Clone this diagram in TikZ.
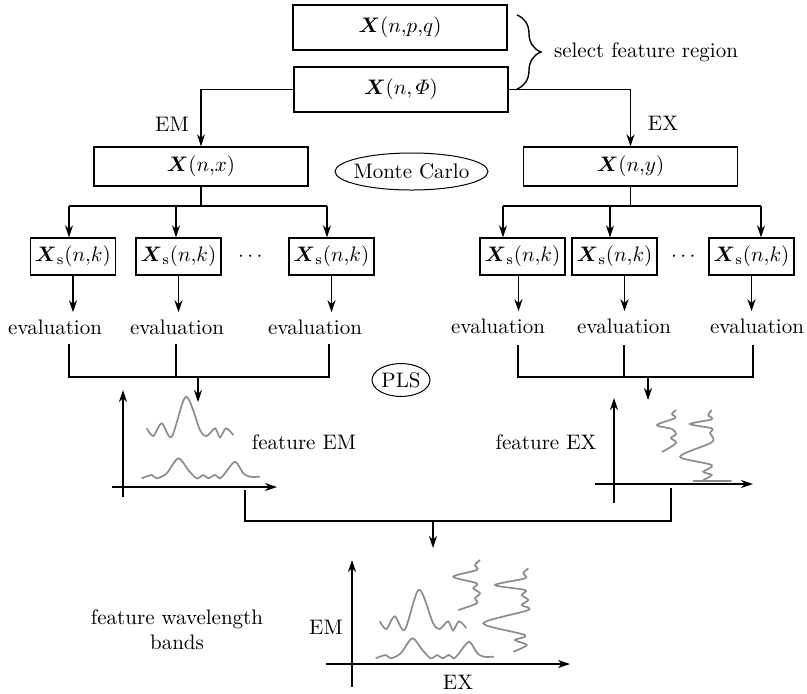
\RequirePackage{fix-cm}
\documentclass[tikz,border=0pt]{standalone}
\usepackage{amsmath}
\usepackage{amssymb}
\usepackage{tikz}
\usetikzlibrary{shapes}
\usetikzlibrary{positioning}
\usetikzlibrary{calc,arrows.meta,decorations.pathreplacing}

\def\bX{\boldsymbol{X}}
\def\Xs{\boldsymbol{X}_{\mathrm{s}}(n{,}k)}

\begin{document}
\begin{tikzpicture}[>={Stealth[length=6pt,width=4pt]}, x=0.5pt, y=-0.5pt, line width=0.7pt,
  font=\fontsize{10.5}{12.6}\selectfont,
  box/.style={draw, minimum width=107pt, minimum height=19.5pt, inner sep=1pt},
  sbox/.style={draw, minimum width=42.5pt, minimum height=18.5pt, inner sep=1pt},
  oval/.style={draw, ellipse, line width=0.5pt, inner xsep=-3pt, inner ysep=2pt},
  wave/.style={black!45, line width=0.85pt}]

\useasboundingbox (0,0) rectangle (807,693);

% input data
\node[box, minimum height=22.5pt] (xpq)  at (400,27.5) {$\bX(n{,}p{,}q)$};
\node[box, minimum height=22.5pt] (xphi) at (401,89.5) {$\bX(n,\varPhi)$};

\coordinate (bt) at (517,15);
\coordinate (bb) at (517,89);
\draw[decorate, decoration={brace, amplitude=12pt}] (bt) -- (bb);
\node (sel) at (646,52) {select feature region};

% EM and EX branches
\node[box] (xnx) at (201,166.5) {$\bX(n{,}x)$};
\node[box] (xny) at (630.5,166.5) {$\bX(n{,}y)$};
\node[oval, minimum width=76.5pt, minimum height=18.5pt] (mc) at (411.5,171.5) {Monte Carlo};

\draw[->] (xphi.west) -| (xnx.north);
\draw[->] (xphi.east) -| (xny.north);
\node (em) at (172,124) {EM};
\node (ex) at (663,123) {EX};

% sub-samples
\node[sbox] (ls1) at (73,256.5)    {$\Xs$};
\node[sbox] (ls2) at (178.5,256.5) {$\Xs$};
\node[sbox] (ls3) at (331.5,256.5) {$\Xs$};
\node (ldots) at (252,257) {$\cdots$};

\node[sbox] (rs1) at (522.5,256.5) {$\Xs$};
\node[sbox] (rs2) at (614.5,256.5) {$\Xs$};
\node[sbox] (rs3) at (751.5,256.5) {$\Xs$};
\node (rdots) at (685,257) {$\cdots$};

\coordinate (la1) at (69,206);
\coordinate (la2) at (176,206);
\coordinate (la3) at (327,206);
\coordinate (ra1) at (503,206);
\coordinate (ra2) at (610,206);
\coordinate (ra3) at (761,206);

\draw (xnx.south) -- (xnx.south |- la1);
\draw (la1) -- (la3);
\draw[->] (la1) -- (la1 |- ls1.north);
\draw[->] (la2) -- (la2 |- ls2.north);
\draw[->] (la3) -- (la3 |- ls3.north);

\draw (xny.south) -- (xny.south |- ra1);
\draw (ra1) -- (ra3);
\draw[->] (ra1) -- (ra1 |- rs1.north);
\draw[->] (ra2) -- (ra2 |- rs2.north);
\draw[->] (ra3) -- (ra3 |- rs3.north);

% evaluation
\node (le1) at (55,327)  {evaluation};
\node (le2) at (177,327) {evaluation};
\node (le3) at (315,327) {evaluation};
\node (re1) at (498,326) {evaluation};
\node (re2) at (624,326) {evaluation};
\node (re3) at (757,326) {evaluation};

\draw[->] (ls1.south) -- (ls1.south |- le1.north);
\draw[->] (ls2.south) -- (ls2.south |- le2.north);
\draw[->] (ls3.south) -- (ls3.south |- le3.north);
\draw[->] ([xshift=-2pt]rs1.south) -- ([xshift=-2pt]rs1.south |- re1.north);
\draw[->] ([xshift=5pt]rs2.south) -- ([xshift=5pt]rs2.south |- re2.north);
\draw[->] (rs3.south) -- (rs3.south |- re3.north);

\coordinate (lc1) at (69,377);
\coordinate (lc2) at (176,377);
\coordinate (lc3) at (329,377);
\coordinate (lo) at (198,377);
\coordinate (lt) at (198,402);
\coordinate (rc1) at (518,377);
\coordinate (rc2) at (624,377);
\coordinate (rc3) at (753,377);
\coordinate (ro) at (648,377);
\coordinate (rt) at (648,400);

\draw ([yshift=-1pt]lc1 |- le1.south) -- (lc1) -- (lc3) -- ([yshift=-1pt]lc3 |- le3.south);
\draw ([yshift=-1pt]lc2 |- le2.south) -- (lc2);
\draw[->] (lo) -- (lt);
\draw ([yshift=-2pt]rc1 |- re1.south) -- (rc1) -- (rc3) -- ([yshift=-2pt]rc3 |- re3.south);
\draw ([yshift=-2pt]rc2 |- re2.south) -- (rc2);
\draw[->] (ro) -- (rt);

\node[oval, minimum width=29pt, minimum height=15.5pt] (pls) at (401,380) {PLS};

% feature EM
\draw[->] (123,497) -- (123,390);
\draw[->] (112,487) -- (277,487);
\node (fem) at (304,442) {feature EM};
\draw[wave] plot[smooth] coordinates {
  (146.7,428.3) (153.3,436) (161.7,423.3) (171.7,436.7) (186,396.7) (200,430)
  (206.7,436) (215,428.3) (220,437.3) (226,428.3) (233.3,435)
};
\draw[wave] plot[smooth] coordinates {
  (141.7,478.3) (151.7,475) (156.7,478.3) (166.7,473.3) (178.3,458.3) (188.3,470)
  (196.7,478.3) (203.3,475) (208.3,478.3) (215,475) (220,478.3) (225,473.3)
  (235,461.7) (243.3,473.3) (250,476.7) (260,476.7)
};

% feature EX
\draw[->] (614,503) -- (614,398);
\draw[->] (595,484) -- (753,484);
\node (fex) at (546,442) {feature EX};
\draw[wave] plot[smooth] coordinates {
  (676,410) (672,414) (675,418) (657,425) (672,429) (676,434) (671,438)
  (676,443) (662,452)
};
\draw[wave] plot[smooth] coordinates {
  (711.7,410) (708.3,415) (711.7,419.3) (690,424) (711.7,428.3) (710,433.3)
  (713.3,438.3) (710,443.3) (680,456.7) (711.7,465) (703.3,471.7) (711.7,475)
  (703.3,480)
} (693,481) -- (731.7,481);

% merge
\coordinate (jl) at (245,521);
\coordinate (jr) at (671,521);
\coordinate (jm) at (433,521);
\coordinate (jt) at (433,548);
\draw (245,490) -- (jl) -- (jr) -- (671,488);
\draw[->] (jm) -- (jt);

% feature wavelength bands
\draw[->] (352,687) -- (352,560);
\draw[->] (326,664) -- (570,664);
\node (bem) at (326,627) {EM};
\node (bex) at (458,682) {EX};
\node[align=center] (fwb) at (177,630) {feature wavelength\\bands};
\draw[wave] plot[smooth] coordinates {
  (379.7,621.3) (386.3,629) (394.7,616.3) (404.7,629.7) (419,589.7) (433,623)
  (439.7,629) (448,621.3) (453,630.3) (459,621.3) (466.3,628)
};
\draw[wave] plot[smooth] coordinates {
  (375.7,658.3) (385.7,655) (390.7,658.3) (400.7,653.3) (412.3,638.3) (422.3,650)
  (430.7,658.3) (437.3,655) (442.3,658.3) (449,655) (454,658.3) (459,653.3)
  (469,641.7) (477.3,653.3) (484,656.7) (494,656.7)
};
\draw[wave] plot[smooth] coordinates {
  (480,560) (475,565) (476.7,570) (453.3,576.7) (476.7,583.3) (473.3,588.3)
  (480,593.3) (475,598.3) (476.7,603.3) (458.3,610)
};
\draw[wave] plot[smooth] coordinates {
  (528.3,568.3) (523.3,573.3) (525,578.3) (495,585) (525,590) (521.7,595)
  (528.3,600) (521.7,605) (528.3,610) (483.3,623.3) (525,635) (515,640)
  (526.7,645) (513.3,651.7)
};

\end{tikzpicture}
\end{document}
